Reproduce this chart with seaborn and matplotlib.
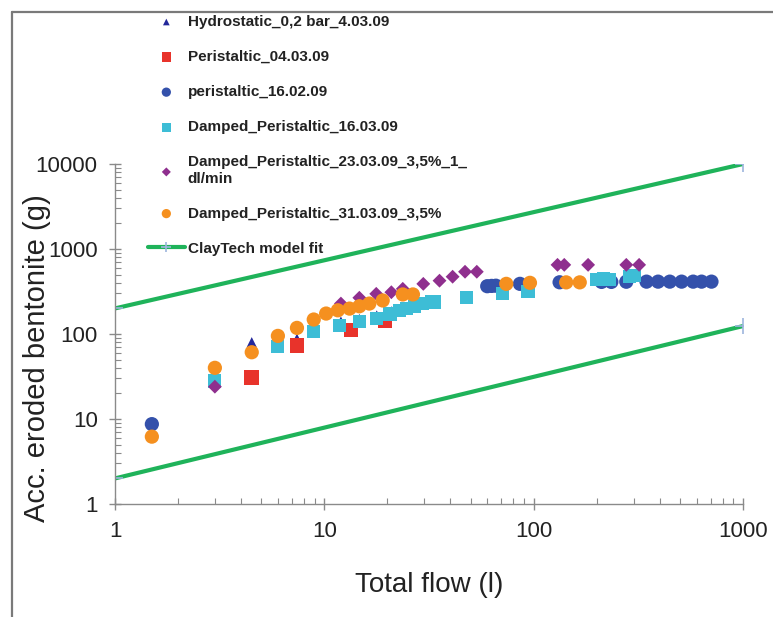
import matplotlib
matplotlib.use("Agg")
import matplotlib.pyplot as plt
import seaborn as sns
import pandas as pd
from matplotlib.lines import Line2D
from matplotlib.ticker import LogLocator, FixedLocator, FixedFormatter, NullFormatter

sns.set_theme(style="white")
plt.rcParams['font.family'] = ['Liberation Sans', 'DejaVu Sans']

# ---------------- data ----------------
hydro_x = [3, 4.5, 7.4, 12, 14.7, 17.8, 21]
hydro_y = [30, 80, 88, 140, 150, 165, 185]

peri0403_x = [4.5, 7.4, 13.4, 19.5]
peri0403_y = [31, 73, 112, 143]

peri1602_x = [1.5, 60, 63, 66, 86, 133, 211, 235, 277, 346, 393, 447, 509, 578, 634, 707]
peri1602_y = [8.7, 365, 368, 370, 389, 406, 410, 410, 412, 413, 413, 413, 413, 413, 413, 413]

damp1603_x = [3, 6, 8.9, 11.8, 14.7, 17.8, 20.6, 22.9, 24.6, 27, 29.5, 32.4, 33.6,
              47.6, 71, 94, 200, 215, 230, 288, 304]
damp1603_y = [28, 71, 106, 127, 139, 152, 172, 190, 199, 212, 228, 238, 238,
              268, 300, 315, 440, 445, 440, 480, 485]

damp2303_x = [3, 12, 14.7, 17.7, 20.9, 23.7, 29.7, 35.5, 41, 47, 53.5, 130, 140, 182, 277, 319]
damp2303_y = [24, 228, 267, 297, 310, 340, 389, 424, 472, 540, 540, 651, 651, 651, 651, 651]

damp3103_x = [1.5, 3, 4.5, 6, 7.4, 8.9, 10.2, 11.6, 13.2, 14.7, 16.4, 19, 23.7, 26.5,
              74, 96, 143, 166]
damp3103_y = [6.2, 40, 61, 95, 118, 148, 174, 190, 199, 212, 228, 248, 292, 292,
              389, 400, 405, 405]

fit_x = [1, 1000]
fit_upper = [200, 10000]
fit_lower = [2, 124]

labels = ["Hydrostatic_0,2 bar_4.03.09",
          "Peristaltic_04.03.09",
          "peristaltic_16.02.09",
          "Damped_Peristaltic_16.03.09",
          "Damped_Peristaltic_23.03.09_3,5%_1_\ndl/min",
          "Damped_Peristaltic_31.03.09_3,5%",
          "ClayTech model fit"]

x_ticks = [1, 10, 100, 1000]
x_ticklabels = ["1", "10", "100", "1000"]
y_ticks = [1, 10, 100, 1000, 10000]
y_ticklabels = ["1", "10", "100", "1000", "10000"]

# ---------------- figure ----------------
W, H = 773, 617
fig = plt.figure(figsize=(W / 100, H / 100), dpi=100)
ax = fig.add_axes([115 / W, (H - 504) / H, (743 - 115) / W, (504 - 164) / H])

series = [
    (hydro_x, hydro_y, labels[0], '^', '#23279a', 55),
    (peri0403_x, peri0403_y, labels[1], 's', '#e8332b', 110),
    (peri1602_x, peri1602_y, labels[2], 'o', '#3451ab', 105),
    (damp1603_x, damp1603_y, labels[3], 's', '#3dbdd6', 90),
    (damp2303_x, damp2303_y, labels[4], 'D', '#8f2f8e', 50),
    (damp3103_x, damp3103_y, labels[5], 'o', '#f5901f', 105),
]
for xs, ys, lab, mk, col, sz in series:
    df = pd.DataFrame({"x": xs, "y": ys})
    sns.scatterplot(data=df, x="x", y="y", ax=ax, marker=mk, color=col, s=sz,
                    edgecolor='none', linewidth=0, label=lab, zorder=3, clip_on=False)

green = '#1fb35a'
for i, fy in enumerate([fit_upper, fit_lower]):
    df = pd.DataFrame({"x": fit_x, "y": fy})
    sns.lineplot(data=df, x="x", y="y", ax=ax, color=green, lw=3,
                 marker='+', markersize=11, markeredgecolor='#9db5dd', markeredgewidth=1.2,
                 label=labels[6] if i == 0 else None, zorder=2)

ax.set_xscale('log')
ax.set_yscale('log')
ax.set_xlim(1, 1000)
ax.set_ylim(1, 10000)

ax.xaxis.set_major_locator(FixedLocator(x_ticks))
ax.xaxis.set_major_formatter(FixedFormatter(x_ticklabels))
ax.yaxis.set_major_locator(FixedLocator(y_ticks))
ax.yaxis.set_major_formatter(FixedFormatter(y_ticklabels))
ax.xaxis.set_minor_locator(LogLocator(base=10, subs=range(2, 10), numticks=20))
ax.yaxis.set_minor_locator(LogLocator(base=10, subs=range(2, 10), numticks=20))
ax.xaxis.set_minor_formatter(NullFormatter())
ax.yaxis.set_minor_formatter(NullFormatter())

for s in ['top', 'right']:
    ax.spines[s].set_visible(False)
for s in ['left', 'bottom']:
    ax.spines[s].set_color('#8a8a8a')
    ax.spines[s].set_linewidth(1.0)

ax.tick_params(axis='both', which='major', direction='inout', length=9, width=1,
               color='#8a8a8a', labelsize=16, labelcolor='#222222', pad=8,
               bottom=True, left=True)
ax.tick_params(axis='both', which='minor', direction='in', length=4, width=0.8,
               color='#8a8a8a', bottom=True, left=True)

ax.set_xlabel("Total flow (l)", fontsize=20, color='#222222')
ax.set_ylabel("Acc. eroded bentonite (g)", fontsize=21, color='#222222')
ax.yaxis.set_label_coords(-0.102, 0.43)
ax.xaxis.set_label_coords(0.5, -0.2)

# legend
ax.legend_.remove()
handles, labs = ax.get_legend_handles_labels()
leg = fig.legend(handles, labs, loc='upper left', bbox_to_anchor=(148 / W, 1 - 15 / H),
                 frameon=False, prop={'weight': 'bold', 'size': 11},
                 labelspacing=1.38, handlelength=2.4, handletextpad=0.2,
                 borderpad=0, borderaxespad=0, markerscale=0.65)
for t in leg.get_texts():
    t.set_color('#222222')

# image border lines (left and top)
fig.add_artist(Line2D([12 / W, 12 / W], [0, 1 - 12 / H], transform=fig.transFigure,
                      color='#7a7a7a', lw=1.6))
fig.add_artist(Line2D([12 / W, 1], [1 - 12 / H, 1 - 12 / H], transform=fig.transFigure,
                      color='#7a7a7a', lw=1.6))

fig.savefig("out.png", dpi=100)
